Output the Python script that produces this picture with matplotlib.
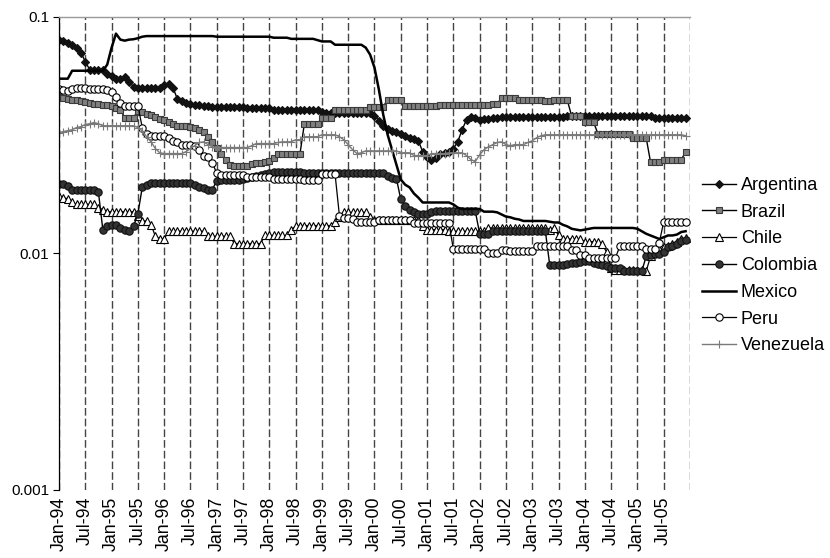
import numpy as np
import matplotlib
matplotlib.use("Agg")
import matplotlib.pyplot as plt

plt.rcParams["font.family"] = ["Liberation Sans", "DejaVu Sans"]

# Monthly series, Jan-94 .. Dec-05 (one row of 12 values per year)
argentina = [
    0.0800, 0.0792, 0.0776, 0.0761, 0.0740, 0.0705, 0.0646, 0.0597, 0.0594, 0.0594, 0.0594, 0.0574,
    0.0563, 0.0547, 0.0547, 0.0558, 0.0531, 0.0506, 0.0499, 0.0499, 0.0499, 0.0499, 0.0499, 0.0499,
    0.0516, 0.0521, 0.0501, 0.0450, 0.0442, 0.0433, 0.0429, 0.0425, 0.0423, 0.0421, 0.0419, 0.0417,
    0.0415, 0.0415, 0.0415, 0.0415, 0.0415, 0.0415, 0.0415, 0.0411, 0.0411, 0.0411, 0.0411, 0.0411,
    0.0411, 0.0405, 0.0405, 0.0405, 0.0405, 0.0405, 0.0405, 0.0405, 0.0405, 0.0405, 0.0405, 0.0405,
    0.0397, 0.0391, 0.0391, 0.0391, 0.0391, 0.0391, 0.0391, 0.0391, 0.0391, 0.0391, 0.0391, 0.0391,
    0.0382, 0.0364, 0.0346, 0.0336, 0.0330, 0.0325, 0.0320, 0.0314, 0.0308, 0.0305, 0.0299, 0.0269,
    0.0256, 0.0249, 0.0254, 0.0264, 0.0266, 0.0269, 0.0277, 0.0296, 0.0333, 0.0367, 0.0378, 0.0374,
    0.0367, 0.0371, 0.0371, 0.0372, 0.0372, 0.0378, 0.0378, 0.0378, 0.0378, 0.0378, 0.0378, 0.0378,
    0.0378, 0.0378, 0.0378, 0.0378, 0.0378, 0.0378, 0.0378, 0.0378, 0.0380, 0.0380, 0.0380, 0.0380,
    0.0380, 0.0380, 0.0380, 0.0380, 0.0380, 0.0380, 0.0380, 0.0380, 0.0380, 0.0380, 0.0380, 0.0380,
    0.0380, 0.0380, 0.0380, 0.0380, 0.0374, 0.0374, 0.0374, 0.0374, 0.0374, 0.0374, 0.0374, 0.0374,
]
brazil = [
    0.0459, 0.0455, 0.0450, 0.0446, 0.0444, 0.0442, 0.0437, 0.0433, 0.0429, 0.0427, 0.0425, 0.0423,
    0.0421, 0.0413, 0.0405, 0.0374, 0.0374, 0.0374, 0.0401, 0.0397, 0.0389, 0.0385, 0.0378, 0.0371,
    0.0367, 0.0360, 0.0353, 0.0346, 0.0346, 0.0346, 0.0343, 0.0340, 0.0333, 0.0325, 0.0311, 0.0296,
    0.0280, 0.0264, 0.0249, 0.0237, 0.0235, 0.0235, 0.0235, 0.0235, 0.0239, 0.0242, 0.0242, 0.0244,
    0.0246, 0.0254, 0.0264, 0.0264, 0.0264, 0.0264, 0.0264, 0.0264, 0.0353, 0.0353, 0.0353, 0.0353,
    0.0374, 0.0374, 0.0374, 0.0405, 0.0405, 0.0405, 0.0405, 0.0405, 0.0405, 0.0405, 0.0405, 0.0417,
    0.0417, 0.0417, 0.0417, 0.0446, 0.0446, 0.0446, 0.0446, 0.0421, 0.0421, 0.0421, 0.0421, 0.0421,
    0.0421, 0.0421, 0.0421, 0.0425, 0.0425, 0.0425, 0.0425, 0.0425, 0.0425, 0.0425, 0.0425, 0.0425,
    0.0425, 0.0425, 0.0425, 0.0429, 0.0429, 0.0453, 0.0453, 0.0453, 0.0453, 0.0446, 0.0446, 0.0446,
    0.0446, 0.0446, 0.0446, 0.0440, 0.0440, 0.0444, 0.0444, 0.0444, 0.0444, 0.0380, 0.0380, 0.0380,
    0.0358, 0.0358, 0.0358, 0.0320, 0.0320, 0.0320, 0.0320, 0.0320, 0.0320, 0.0320, 0.0320, 0.0308,
    0.0308, 0.0308, 0.0308, 0.0243, 0.0243, 0.0243, 0.0249, 0.0248, 0.0248, 0.0248, 0.0248, 0.0269,
]
chile = [
    0.0174, 0.0172, 0.0170, 0.0164, 0.0161, 0.0161, 0.0161, 0.0161, 0.0161, 0.0156, 0.0153, 0.0150,
    0.0150, 0.0150, 0.0150, 0.0150, 0.0150, 0.0150, 0.0144, 0.0137, 0.0137, 0.0132, 0.0118, 0.0115,
    0.0115, 0.0124, 0.0124, 0.0124, 0.0124, 0.0124, 0.0124, 0.0124, 0.0124, 0.0124, 0.0118, 0.0118,
    0.0118, 0.0118, 0.0118, 0.0118, 0.0110, 0.0110, 0.0110, 0.0110, 0.0110, 0.0110, 0.0110, 0.0119,
    0.0119, 0.0119, 0.0119, 0.0119, 0.0119, 0.0126, 0.0130, 0.0131, 0.0131, 0.0131, 0.0131, 0.0131,
    0.0131, 0.0131, 0.0131, 0.0136, 0.0142, 0.0149, 0.0149, 0.0149, 0.0149, 0.0149, 0.0149, 0.0142,
    0.0138, 0.0138, 0.0138, 0.0138, 0.0138, 0.0138, 0.0138, 0.0138, 0.0138, 0.0138, 0.0138, 0.0131,
    0.0126, 0.0126, 0.0126, 0.0126, 0.0126, 0.0124, 0.0124, 0.0124, 0.0124, 0.0124, 0.0124, 0.0124,
    0.0124, 0.0124, 0.0128, 0.0128, 0.0128, 0.0128, 0.0128, 0.0128, 0.0128, 0.0128, 0.0128, 0.0128,
    0.0128, 0.0128, 0.0128, 0.0128, 0.0126, 0.0128, 0.0119, 0.0115, 0.0115, 0.0115, 0.0115, 0.0115,
    0.0112, 0.0112, 0.0112, 0.0112, 0.0109, 0.0101, 0.0087, 0.0085, 0.0085, 0.0085, 0.0085, 0.0085,
    0.0085, 0.0085, 0.0084, 0.0097, 0.0102, 0.0104, 0.0106, 0.0107, 0.0110, 0.0112, 0.0115, 0.0116,
]
colombia = [
    0.0197, 0.0197, 0.0193, 0.0185, 0.0185, 0.0185, 0.0185, 0.0185, 0.0185, 0.0181, 0.0126, 0.0130,
    0.0132, 0.0132, 0.0128, 0.0125, 0.0124, 0.0130, 0.0147, 0.0190, 0.0195, 0.0198, 0.0198, 0.0198,
    0.0198, 0.0198, 0.0198, 0.0198, 0.0198, 0.0198, 0.0198, 0.0195, 0.0191, 0.0188, 0.0186, 0.0186,
    0.0203, 0.0205, 0.0205, 0.0205, 0.0205, 0.0205, 0.0207, 0.0209, 0.0211, 0.0213, 0.0215, 0.0217,
    0.0218, 0.0220, 0.0220, 0.0220, 0.0220, 0.0220, 0.0220, 0.0220, 0.0219, 0.0219, 0.0219, 0.0219,
    0.0219, 0.0219, 0.0219, 0.0219, 0.0219, 0.0219, 0.0219, 0.0219, 0.0219, 0.0219, 0.0219, 0.0219,
    0.0219, 0.0219, 0.0219, 0.0213, 0.0209, 0.0207, 0.0169, 0.0158, 0.0152, 0.0149, 0.0146, 0.0146,
    0.0146, 0.0149, 0.0151, 0.0151, 0.0151, 0.0151, 0.0151, 0.0151, 0.0151, 0.0151, 0.0151, 0.0151,
    0.0121, 0.0121, 0.0121, 0.0124, 0.0124, 0.0124, 0.0124, 0.0124, 0.0124, 0.0124, 0.0124, 0.0124,
    0.0124, 0.0124, 0.0124, 0.0124, 0.0089, 0.0089, 0.0089, 0.0089, 0.0090, 0.0091, 0.0091, 0.0092,
    0.0093, 0.0093, 0.0091, 0.0090, 0.0089, 0.0088, 0.0087, 0.0087, 0.0087, 0.0084, 0.0084, 0.0084,
    0.0084, 0.0084, 0.0097, 0.0098, 0.0099, 0.0099, 0.0101, 0.0106, 0.0107, 0.0109, 0.0113, 0.0114,
]
mexico = [
    0.0547, 0.0547, 0.0547, 0.0591, 0.0591, 0.0591, 0.0591, 0.0591, 0.0591, 0.0591, 0.0591, 0.0627,
    0.0740, 0.0848, 0.0800, 0.0792, 0.0800, 0.0803, 0.0811, 0.0823, 0.0828, 0.0828, 0.0828, 0.0828,
    0.0828, 0.0828, 0.0828, 0.0828, 0.0828, 0.0828, 0.0828, 0.0828, 0.0828, 0.0828, 0.0828, 0.0828,
    0.0823, 0.0823, 0.0823, 0.0823, 0.0823, 0.0823, 0.0823, 0.0823, 0.0823, 0.0823, 0.0823, 0.0823,
    0.0823, 0.0815, 0.0815, 0.0815, 0.0815, 0.0806, 0.0806, 0.0806, 0.0806, 0.0806, 0.0806, 0.0796,
    0.0786, 0.0786, 0.0786, 0.0761, 0.0761, 0.0761, 0.0761, 0.0761, 0.0761, 0.0761, 0.0740, 0.0691,
    0.0609, 0.0492, 0.0385, 0.0317, 0.0274, 0.0237, 0.0205, 0.0195, 0.0190, 0.0179, 0.0172, 0.0164,
    0.0164, 0.0164, 0.0164, 0.0164, 0.0164, 0.0164, 0.0161, 0.0156, 0.0154, 0.0154, 0.0154, 0.0154,
    0.0154, 0.0150, 0.0150, 0.0150, 0.0149, 0.0146, 0.0143, 0.0142, 0.0140, 0.0139, 0.0137, 0.0137,
    0.0137, 0.0137, 0.0137, 0.0137, 0.0136, 0.0135, 0.0135, 0.0132, 0.0130, 0.0127, 0.0126, 0.0125,
    0.0126, 0.0127, 0.0128, 0.0128, 0.0128, 0.0128, 0.0128, 0.0128, 0.0128, 0.0128, 0.0128, 0.0128,
    0.0127, 0.0124, 0.0121, 0.0119, 0.0117, 0.0115, 0.0117, 0.0119, 0.0119, 0.0120, 0.0123, 0.0124,
]
peru = [
    0.0496, 0.0492, 0.0487, 0.0496, 0.0501, 0.0501, 0.0501, 0.0496, 0.0496, 0.0496, 0.0496, 0.0492,
    0.0482, 0.0459, 0.0433, 0.0421, 0.0421, 0.0421, 0.0421, 0.0340, 0.0320, 0.0314, 0.0314, 0.0314,
    0.0314, 0.0308, 0.0299, 0.0294, 0.0288, 0.0288, 0.0288, 0.0285, 0.0274, 0.0259, 0.0256, 0.0241,
    0.0218, 0.0214, 0.0214, 0.0214, 0.0214, 0.0214, 0.0214, 0.0210, 0.0210, 0.0210, 0.0210, 0.0210,
    0.0210, 0.0207, 0.0207, 0.0207, 0.0207, 0.0207, 0.0207, 0.0207, 0.0205, 0.0205, 0.0205, 0.0205,
    0.0216, 0.0216, 0.0216, 0.0216, 0.0144, 0.0141, 0.0141, 0.0139, 0.0135, 0.0135, 0.0135, 0.0135,
    0.0135, 0.0138, 0.0138, 0.0138, 0.0138, 0.0138, 0.0138, 0.0138, 0.0138, 0.0134, 0.0134, 0.0134,
    0.0134, 0.0134, 0.0134, 0.0134, 0.0134, 0.0134, 0.0104, 0.0104, 0.0104, 0.0104, 0.0104, 0.0104,
    0.0104, 0.0104, 0.0100, 0.0100, 0.0100, 0.0103, 0.0103, 0.0102, 0.0102, 0.0102, 0.0102, 0.0102,
    0.0102, 0.0107, 0.0107, 0.0107, 0.0107, 0.0107, 0.0107, 0.0107, 0.0107, 0.0103, 0.0103, 0.00985,
    0.00985, 0.0096, 0.0096, 0.0096, 0.0096, 0.0096, 0.0096, 0.0096, 0.0107, 0.0107, 0.0107, 0.0107,
    0.0107, 0.0107, 0.0104, 0.0104, 0.0104, 0.0111, 0.0136, 0.0136, 0.0136, 0.0136, 0.0136, 0.0136,
]
venezuela = [
    0.0324, 0.0327, 0.0330, 0.0333, 0.0340, 0.0343, 0.0350, 0.0353, 0.0357, 0.0353, 0.0346, 0.0346,
    0.0346, 0.0346, 0.0346, 0.0346, 0.0346, 0.0346, 0.0340, 0.0330, 0.0311, 0.0296, 0.0277, 0.0266,
    0.0264, 0.0264, 0.0264, 0.0264, 0.0264, 0.0269, 0.0277, 0.0285, 0.0294, 0.0296, 0.0288, 0.0282,
    0.0280, 0.0280, 0.0280, 0.0280, 0.0280, 0.0280, 0.0280, 0.0280, 0.0285, 0.0291, 0.0291, 0.0291,
    0.0291, 0.0291, 0.0294, 0.0296, 0.0296, 0.0296, 0.0302, 0.0302, 0.0311, 0.0311, 0.0311, 0.0311,
    0.0317, 0.0317, 0.0317, 0.0317, 0.0311, 0.0302, 0.0288, 0.0274, 0.0264, 0.0266, 0.0271, 0.0271,
    0.0271, 0.0271, 0.0271, 0.0271, 0.0271, 0.0271, 0.0266, 0.0266, 0.0266, 0.0259, 0.0259, 0.0259,
    0.0259, 0.0264, 0.0264, 0.0264, 0.0264, 0.0266, 0.0266, 0.0266, 0.0266, 0.0259, 0.0249, 0.0244,
    0.0261, 0.0274, 0.0282, 0.0288, 0.0294, 0.0296, 0.0288, 0.0285, 0.0288, 0.0288, 0.0288, 0.0294,
    0.0299, 0.0308, 0.0314, 0.0317, 0.0317, 0.0317, 0.0317, 0.0317, 0.0317, 0.0317, 0.0317, 0.0317,
    0.0317, 0.0317, 0.0317, 0.0317, 0.0317, 0.0317, 0.0317, 0.0317, 0.0317, 0.0317, 0.0317, 0.0317,
    0.0317, 0.0317, 0.0317, 0.0317, 0.0317, 0.0317, 0.0317, 0.0317, 0.0317, 0.0317, 0.0317, 0.0314,
]

tick_labels = [
    "Jan-94", "Jul-94", "Jan-95", "Jul-95", "Jan-96", "Jul-96", "Jan-97", "Jul-97",
    "Jan-98", "Jul-98", "Jan-99", "Jul-99", "Jan-00", "Jul-00", "Jan-01", "Jul-01",
    "Jan-02", "Jul-02", "Jan-03", "Jul-03", "Jan-04", "Jul-04", "Jan-05", "Jul-05",
]

# name, data, line colour, marker, marker size, face colour, edge colour, line width
series = [
    ("Argentina", argentina, "black", "D", 3.6, "#111111", "#111111", 1.0),
    ("Brazil", brazil, "black", "s", 5.0, "#808080", "#3a3a3a", 1.0),
    ("Chile", chile, "black", "^", 5.2, "white", "black", 0.9),
    ("Colombia", colombia, "black", "o", 5.3, "#333333", "#111111", 1.0),
    ("Mexico", mexico, "black", None, 0, "black", "black", 1.8),
    ("Peru", peru, "black", "o", 5.3, "white", "black", 0.9),
    ("Venezuela", venezuela, "#7a7a7a", "+", 6.0, "#7a7a7a", "#7a7a7a", 1.0),
]

fig = plt.figure(figsize=(8.3, 5.58), dpi=100)
ax = fig.add_axes([0.0711, 0.1219, 0.7602, 0.8482])

months = np.arange(len(argentina))
for name, vals, col, mk, ms, fc, ec, lw in series:
    ax.plot(months, vals, color=col, lw=lw, marker=mk, markersize=ms,
            markerfacecolor=fc, markeredgecolor=ec, markeredgewidth=0.8,
            label=name)

ax.set_yscale("log")
ax.set_ylim(0.001, 0.1)
ax.set_yticks([0.001, 0.01, 0.1])
ax.set_yticklabels(["0.001", "0.01", "0.1"])
ax.yaxis.set_minor_locator(matplotlib.ticker.NullLocator())
ax.tick_params(axis="y", direction="out", length=4, width=0.8, pad=3, labelsize=11)

ax.set_xlim(0, 144)
ax.set_xticks(np.arange(0, 145, 6))
ax.set_xticklabels(tick_labels + [""], rotation=90)
ax.tick_params(axis="x", length=0, pad=5, labelsize=12.8)

# dashed vertical dividers every six months
ax.grid(axis="x", linestyle=(0, (5.5, 2.2)), color="#444444", lw=1.0)
ax.set_axisbelow(True)

ax.spines["right"].set_visible(False)
ax.spines["bottom"].set_visible(False)
ax.spines["top"].set_color("#999999")
ax.spines["top"].set_linewidth(1.0)
ax.spines["left"].set_linewidth(0.9)

leg = fig.legend(loc="center left", bbox_to_anchor=(0.846, 0.524),
                 frameon=False, fontsize=13, handlelength=1.9,
                 handletextpad=0.25, labelspacing=0.54, borderpad=0,
                 borderaxespad=0)

fig.savefig("out.png", dpi=100)
